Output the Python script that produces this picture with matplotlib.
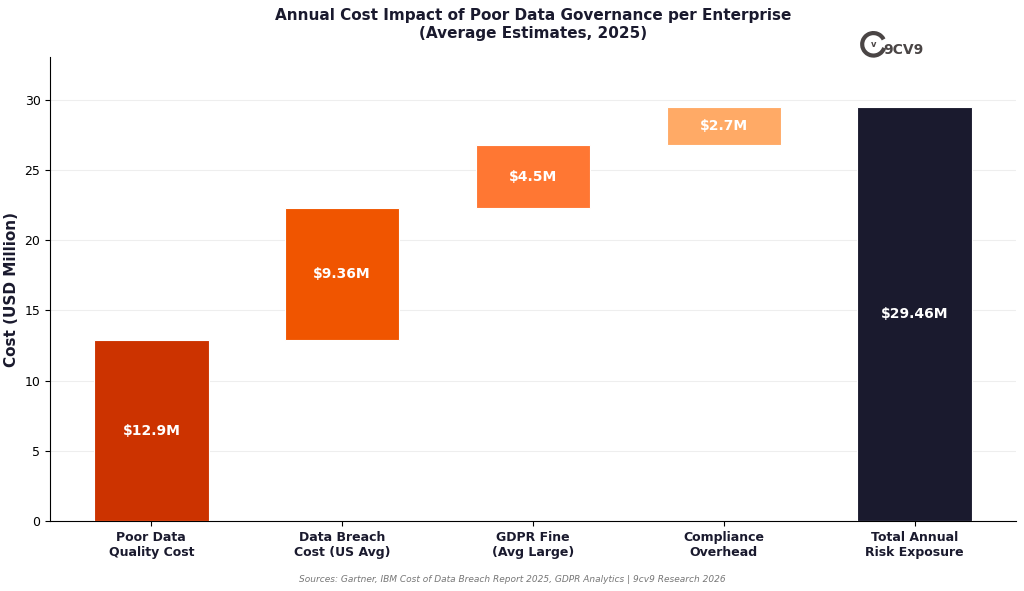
import matplotlib.pyplot as plt
from matplotlib.patches import Arc

categories = ["Poor Data\nQuality Cost", "Data Breach\nCost (US Avg)", "GDPR Fine\n(Avg Large)",
              "Compliance\nOverhead", "Total Annual\nRisk Exposure"]
values = [12.9, 9.36, 4.5, 2.7]
total = 29.46
labels = ["$12.9M", "$9.36M", "$4.5M", "$2.7M", "$29.46M"]
colors = ["#cc3300", "#f05500", "#ff7733", "#ffaa66", "#1a1a2e"]

# bases for the floating bars
bottoms = []
run = 0
for v in values:
    bottoms.append(run)
    run += v
heights = values + [total]
bottoms = bottoms + [0]

fig, ax = plt.subplots(figsize=(10.24, 5.91), dpi=100)
fig.subplots_adjust(left=0.049, right=0.992, top=0.903, bottom=0.118)

x = range(len(categories))
ax.bar(x, heights, bottom=bottoms, width=0.6, color=colors, zorder=3,
       edgecolor="white", linewidth=0.8)
for i in x:
    ax.text(i, bottoms[i] + heights[i] / 2, labels[i], ha="center", va="center",
            color="white", fontsize=10, fontweight="bold", zorder=4)

ax.set_xticks(list(x))
ax.set_xticklabels(categories, fontsize=9, fontweight="bold", color="#1a1a2e")
ax.set_ylim(0, 33)
ax.set_ylabel("Cost (USD Million)", fontsize=11, fontweight="bold", color="#1a1a2e")
ax.tick_params(axis="y", labelsize=9)
ax.grid(axis="y", color="#eeeeee", linewidth=0.8, zorder=0)
ax.spines["top"].set_visible(False)
ax.spines["right"].set_visible(False)
ax.set_title("Annual Cost Impact of Poor Data Governance per Enterprise\n(Average Estimates, 2025)",
             fontsize=11, fontweight="bold", color="#1a1a2e", pad=14)

# logo
fig.text(0.863, 0.915, "9CV9", fontsize=10, fontweight="bold", color="#4a4545",
         ha="left", va="center")
arc = Arc((0.853, 0.925), 0.022, 0.038, theta1=40, theta2=330, transform=fig.transFigure,
          color="#4a4545", linewidth=3)
fig.add_artist(arc)
fig.text(0.853, 0.925, "v", fontsize=6, fontweight="bold", color="#4a4545",
         ha="center", va="center")

fig.text(0.5, 0.015, "Sources: Gartner, IBM Cost of Data Breach Report 2025, GDPR Analytics | 9cv9 Research 2026",
         ha="center", fontsize=6.5, style="italic", color="#777777")

fig.savefig("out.png", dpi=100)
